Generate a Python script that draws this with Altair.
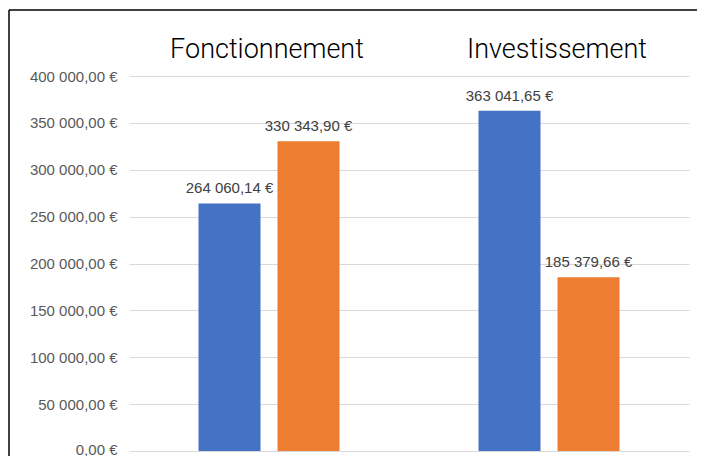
import altair as alt
import pandas as pd

# Data
groups = ["Fonctionnement", "Fonctionnement", "Investissement", "Investissement"]
series = ["Série 1", "Série 2", "Série 1", "Série 2"]
values = [264060.14, 330343.90, 363041.65, 185379.66]
group_order = ["Fonctionnement", "Investissement"]
series_order = ["Série 1", "Série 2"]
colors = ["#4472C4", "#ED7D31"]
y_ticks = [0, 50000, 100000, 150000, 200000, 250000, 300000, 350000, 400000]

df = pd.DataFrame({"groupe": groups, "serie": series, "valeur": values})

x_enc = alt.X(
    "groupe:N",
    sort=group_order,
    scale=alt.Scale(paddingInner=0, paddingOuter=0),
    axis=alt.Axis(
        orient="top", title=None, labelAngle=0, labelFontSize=27,
        labelFont="Roboto", labelFontWeight=300, labelColor="#000000",
        labelBaseline="alphabetic", labelPadding=19, labelLimit=0,
        labelOffset={"condition": {"test": "datum.value === 'Investissement'", "value": 8},
                     "value": -2},
        ticks=False, domain=False, grid=False,
    ),
)
xoff_enc = alt.XOffset(
    "serie:N", sort=series_order,
    scale=alt.Scale(paddingInner=0.215, paddingOuter=0.88),
)
y_enc = alt.Y(
    "valeur:Q",
    scale=alt.Scale(domain=[0, 400000]),
    axis=alt.Axis(
        values=y_ticks, format="$,.2f", title=None, domain=False, ticks=False,
        labelPadding=12, labelFontSize=15, labelFont="Liberation Sans",
        labelColor="#595959", gridColor="#d9d9d9", gridWidth=1,
        labelOffset={"condition": {"test": "datum.value === 0", "value": -2}, "value": 0},
    ),
)

base = alt.Chart(df)

bars = base.mark_bar().encode(
    x=x_enc,
    xOffset=xoff_enc,
    y=y_enc,
    color=alt.Color("serie:N", sort=series_order,
                    scale=alt.Scale(domain=series_order, range=colors), legend=None),
)

labels = base.mark_text(
    baseline="bottom", dy=-7, fontSize=15, font="Liberation Sans", color="#404040"
).encode(
    x=x_enc,
    xOffset=xoff_enc,
    y=y_enc,
    text=alt.Text("valeur:Q", format="$,.2f"),
)

frame_df = pd.DataFrame({"k": [0]})
frame_top = alt.Chart(frame_df).mark_rule(color="#000000", strokeWidth=1.5).encode(
    x=alt.value(-120), x2=alt.value(640), y=alt.value(-66)
)
frame_left = alt.Chart(frame_df).mark_rule(color="#000000", strokeWidth=1.5).encode(
    x=alt.value(-120), y=alt.value(-66), y2=alt.value(420)
)

chart = (
    alt.layer(bars, labels, frame_top, frame_left)
    .properties(
        width=560, height=375,
        autosize=alt.AutoSizeParams(type="none"),
        padding={"left": 121, "top": 68, "right": 8, "bottom": 5},
    )
    .configure(
        locale={
            "number": {
                "decimal": ",",
                "thousands": "\u00a0",
                "grouping": [3],
                "currency": ["", "\u00a0€"],
            }
        }
    )
    .configure_view(stroke=None)
)

chart.save("out.html", embed_options={"renderer": "svg", "actions": False})
